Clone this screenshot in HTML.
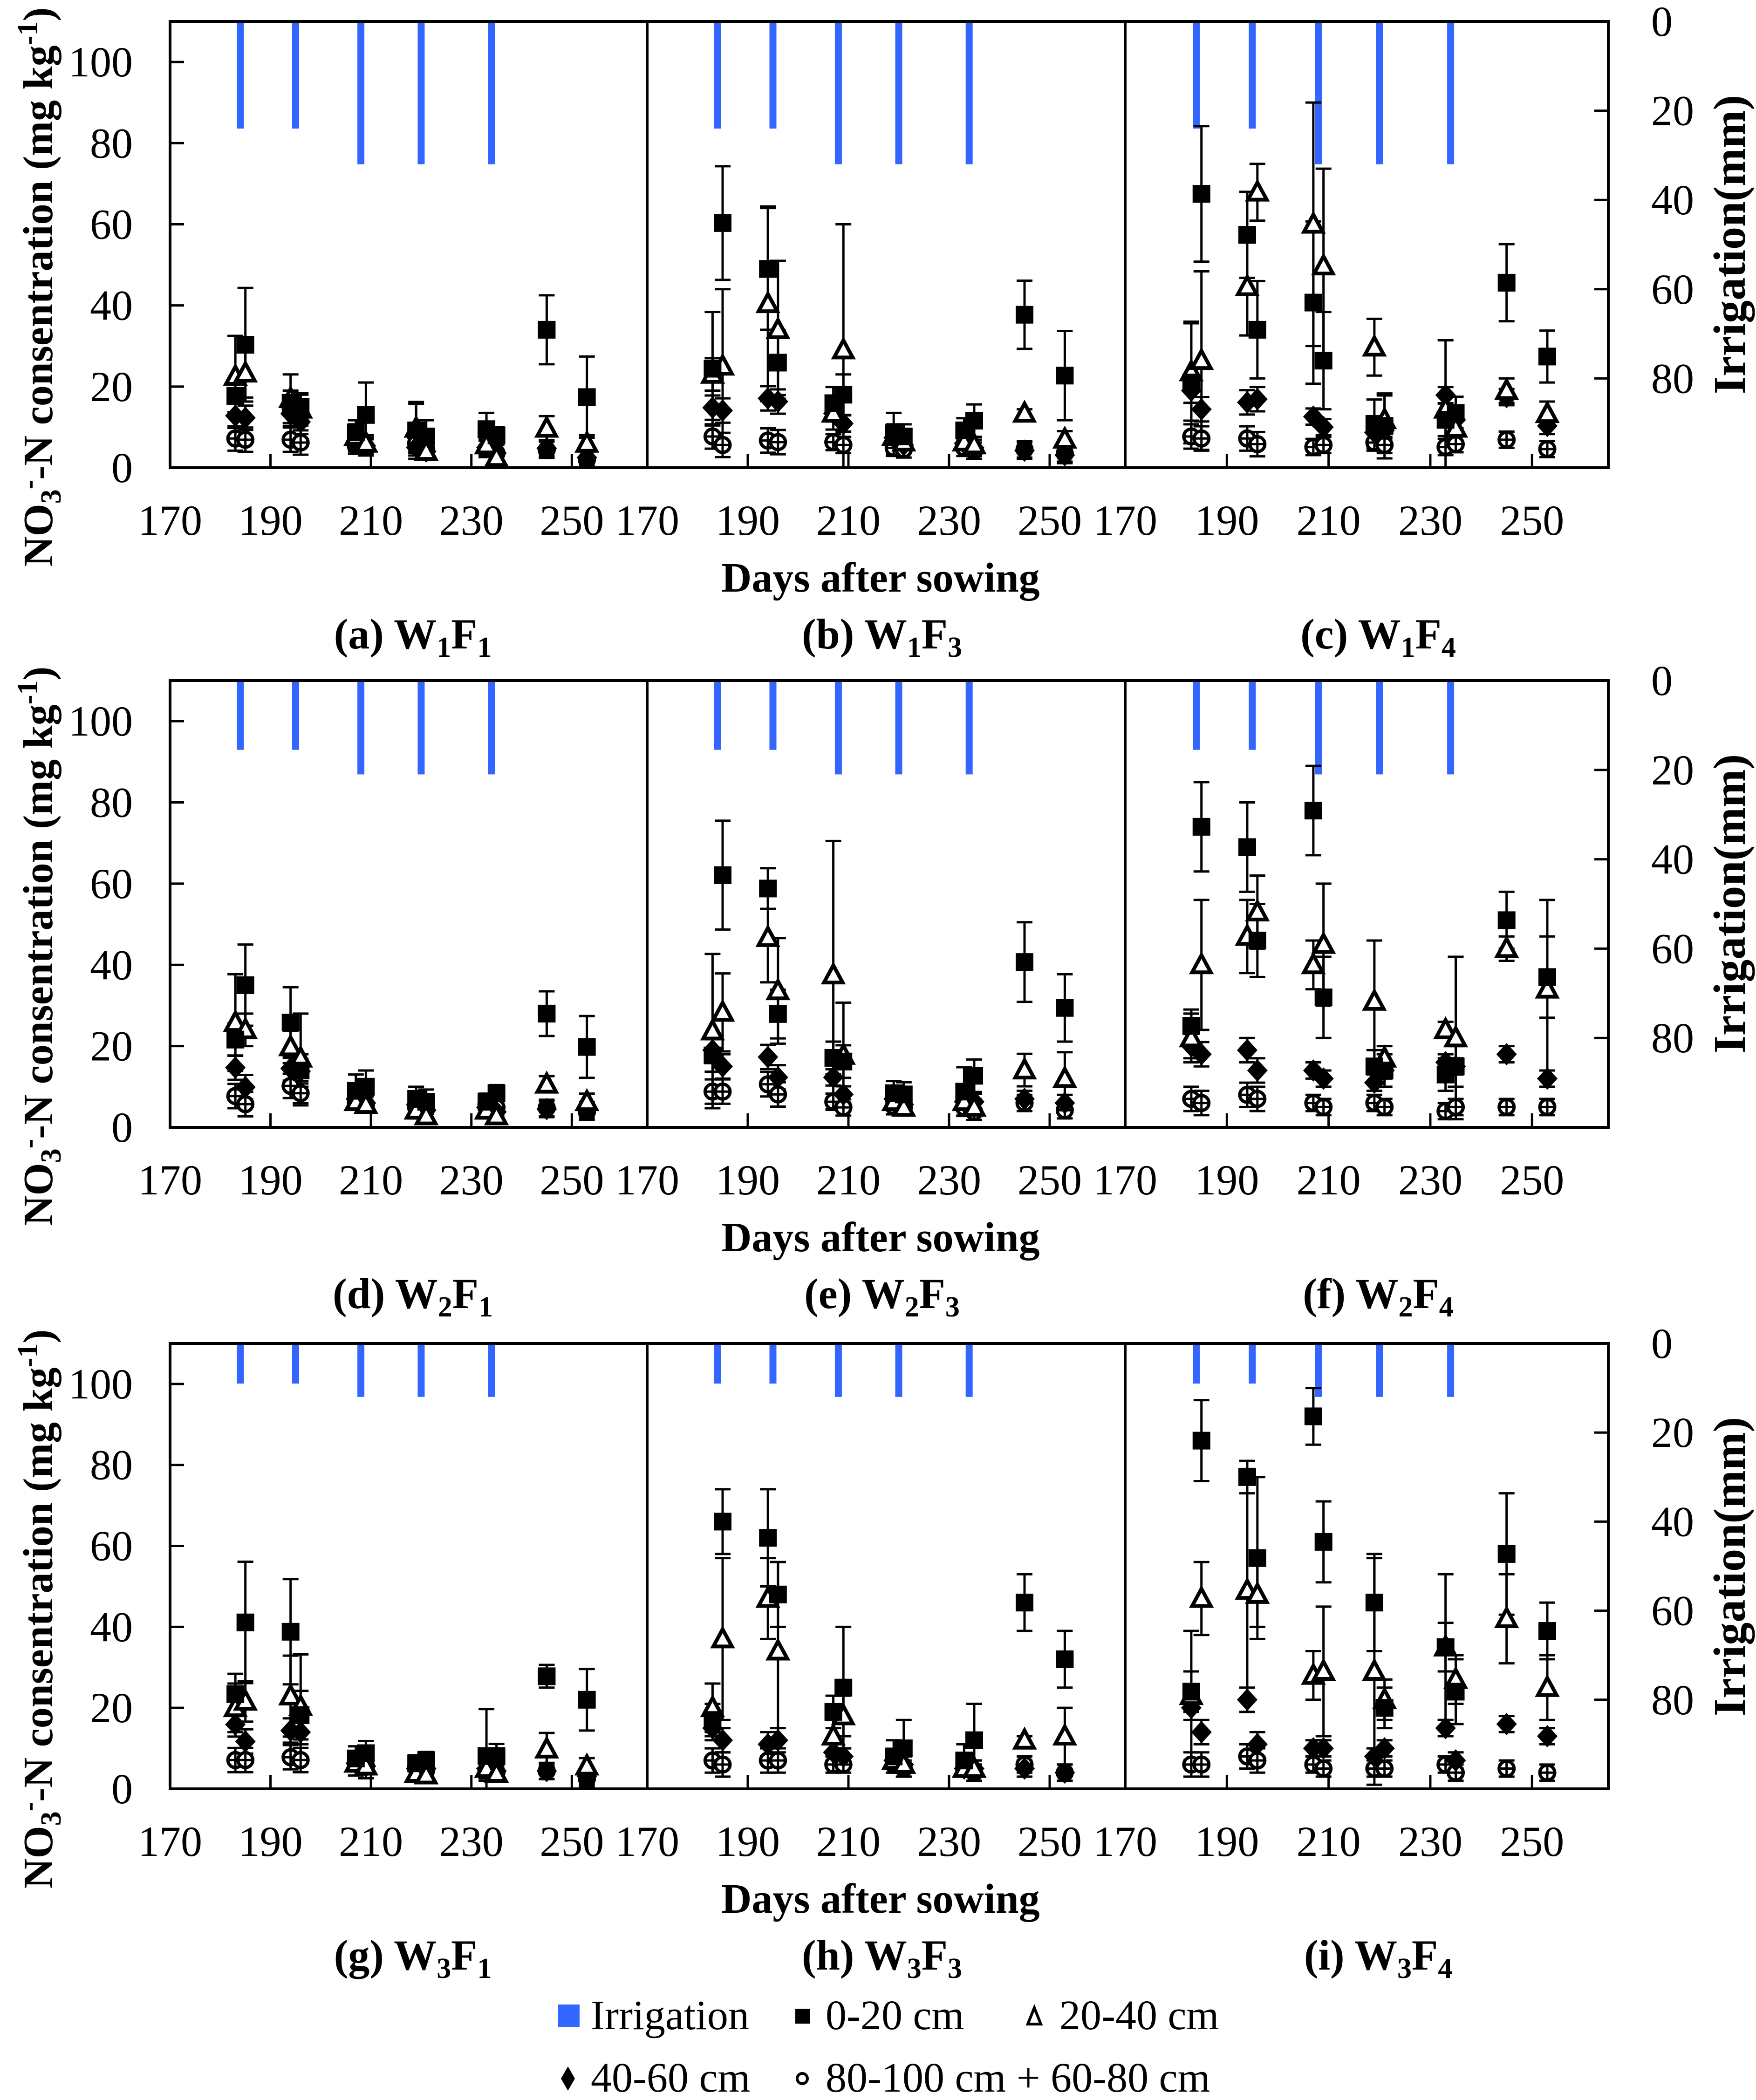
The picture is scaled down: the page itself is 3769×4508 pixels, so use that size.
<!DOCTYPE html>
<html><head><meta charset="utf-8">
<style>
html,body{margin:0;padding:0;background:#fff;}
svg, svg text{font-family:"Liberation Serif","DejaVu Serif",serif;}
svg{display:block;}
</style></head>
<body>
<svg id="chart" width="3769" height="4508" viewBox="0 0 3769 4508" xmlns="http://www.w3.org/2000/svg" font-family="Liberation Serif, DejaVu Serif, serif">
<rect x="0" y="0" width="3769" height="4508" fill="#fff"/>
<g id="layer"></g>
<g>
  <rect x="1198" y="4303" width="46" height="48" fill="#3366ff"/>
  <text x="1268" y="4356" font-size="90">Irrigation</text>
  <rect x="1707" y="4312" width="32" height="32" fill="#000"/>
  <text x="1772" y="4356" font-size="90">0-20 cm</text>
  <path d="M2220,4310 L2234,4345 L2206,4345 Z" fill="none" stroke="#000" stroke-width="6"/>
  <text x="2274" y="4356" font-size="90">20-40 cm</text>
  <path d="M1219,4436 L1234,4462 L1219,4488 L1204,4462 Z" fill="#000"/>
  <text x="1268" y="4490" font-size="90">40-60 cm</text>
  <circle cx="1722" cy="4462" r="11" fill="none" stroke="#000" stroke-width="6"/>
  <text x="1772" y="4490" font-size="90">80-100 cm + 60-80 cm</text>
</g>
</svg>
<script>
const days = [183,185,194,196,207,209,219,221,233,235,245,253];
const xTicks = [170,190,210,230,250];
const yTicks = [0,20,40,60,80,100];
const irrTicks = [0,20,40,60,80];
const irrDays = [184,195,208,220,234];
const irrRow1 = [24,24,32,32,32];
const irrRow2 = [15.5,15.5,21,21,21];
const irrRow3 = [9,9,12,12,12];
const deepErr = [3,3,3,3,2,2,2,2,2,2,2,2];

const a_sq  = [17.7,30.3,16,15,8.7,13,9.2,7.7,9.5,8,34,17.4];
const a_sqE = [4,14,3,3,3,8,7,4,4,2,8.5,10];
const a_tri = [22.5,23.3,17,14.4,7.7,6,9.7,4,5.6,2.5,9.7,6];
const a_triE= [10,6,6,4,3,2,6,2,2,1,3,2];
const a_dia = [12.8,12.3,13.3,11.3,6,5.4,5,4,5,3.6,4.8,2.5];
const a_cir = [7.2,6.9,6.9,6.2,5.4,5,6,4.6,4.6,3.6,4.4,2];

const b_sq  = [24.4,60.3,49,25.9,15.9,18,8.5,7.7,9.2,11.6,37.7,22.7];
const b_sqE = [14,14,15,8,4,5,5,3,3,4,8.4,11];
const b_tri = [23,25,40.4,34,13.4,29,7.7,6.3,6.3,5.6,13.4,7];
const b_triE= [4,19,24,17,4,31,3,2,2,2,1,2];
const b_dia = [14.8,14.1,17.1,16.3,13.4,10.9,7.4,5.6,6,4.9,4.2,3.1];
const b_cir = [7.7,5.6,6.7,6.3,6.3,5.6,4.9,4.5,4.9,4.2,4.5,3.5];

const c_sq  = [21,67.5,57.4,34,40.7,26.4,10.8,10.3,11.8,13.5,45.6,27.4];
const c_sqE = [15,16.7,10.6,12,20,12,6,8,4,4,9.5,6.4];
const c_tri = [23.6,26.4,44.6,67.9,60,49.7,29.7,11.8,14.4,9.7,19,13.3];
const c_triE= [12,22,12,7,30,24,7,6,17,4,3,3];
const c_dia = [19,14.4,16.1,16.9,12.6,10,8.7,9.2,17.9,11.8,17.4,10.3];
const c_cir = [7.7,7.2,7.2,5.8,5.1,5.6,6.2,5.6,5.1,5.8,6.9,4.6];

const d_sq  = [21.6,35,25.8,14,9,10,7,6.3,6.3,8.4,28,19.8];
const d_sqE = [4,10,8.7,4,4,4,3,3,2,2,5.5,7.6];
const d_tri = [25.8,24,19.8,17,6.3,5.6,4.2,2.8,4.2,2.8,10.6,6.3];
const d_triE= [11.9,4,4,11,2,2,2,1,2,1,2,2];
const d_dia = [14.7,9.9,14.5,13.8,7,6,5.6,4.2,4.9,3.8,4.5,4.2];
const d_cir = [7.7,5.7,10.2,8.4,6.3,5.6,4.9,4.5,5.6,4.9,4.8,3.8];

const e_sq  = [17.7,62.1,58.8,27.9,17.1,16.2,8.4,8.1,8.8,12.7,40.7,29.4];
const e_sqE = [4,13.4,5,6,4,4,3,3,6,4,9.8,8.3];
const e_tri = [23.7,28.3,46.7,33.6,37.5,17.7,6.3,4.9,6.3,4.9,14.1,12];
const e_triE= [19,9.6,11,13,33,13,2,2,2,2,4,6.5];
const e_dia = [19,15,17.3,12.3,12.3,8.1,7,5.6,6.3,6.3,7,6];
const e_cir = [8.8,8.8,10.6,8.1,6.3,4.9,5.2,4.9,4.9,3.8,6,4.2];

const f_sq  = [25,74,69,46,78,32,15,14,13,15,51,37];
const f_sqE = [4,11,11,9,11,10,4,4,4,5,7,10];
const f_tri = [22,40,47,53,40,45,31,17,24,22,44,34];
const f_triE= [6,16,9,9,6,15,15,3,2,20,3,22];
const f_dia = [20,18,19,14,14,12,11,14,16,15,18,12];
const f_cir = [7,6,8,7,6,5,6,5,4,5,5,5];

const g_sq  = [23.4,41.1,38.8,18.2,7.5,8.8,6.3,7.1,8.1,8.1,27.8,22];
const g_sqE = [5,15,13,6,3,3,2,2,11.6,3,2.8,7.6];
const g_tri = [20,21.6,22.9,20.3,6.3,5.6,3.8,3.4,5,3.8,9.8,5.6];
const g_triE= [6,5,10,12.9,3,3,2,2,3,2,4,2];
const g_dia = [15.9,11.7,14.4,14,6.3,5.6,5,5,5,4.4,4.4,3.1];
const g_cir = [7.1,7.1,7.8,7.1,6.3,5.6,5.4,4.6,4.6,4.1,4.4,2.5];

const h_sq  = [17,66,62,48,19,25,8,10,7,12,46,32];
const h_sqE = [4,8,12,8,4,15,4,7,4,9,7,7];
const h_tri = [20,37,47,34,13,18,7,6,5,5,12,13];
const h_triE= [6,20,10,22,4,5,2,2,2,2,1,7];
const h_dia = [15,12,11,12,9,8,7,6,5,5,5,4];
const h_cir = [7,6,7,7,6,6,6,5,5,4,6,4];

const i_sq  = [24,86,77,57,92,61,46,20,35,24,58,39];
const i_sqE = [5,10,4,20,7,10,12,5,18,8,15,7];
const i_tri = [23,47,49,48,28,29,29,22,35,27,42,25];
const i_triE= [16,9,30,8,6,16,28,5,6,6,11,8];
const i_dia = [20,14,22,11,10,10,8,10,15,7,16,13];
const i_cir = [6,6,8,7,6,5,5,5,6,4,5,4];

const panelNames = ["a","b","c","d","e","f","g","h","i"];
const panelW = ["1","1","1","2","2","2","3","3","3"];
const panelF = ["1","3","4","1","3","4","1","3","4"];

const NS = "http://www.w3.org/2000/svg";
const layer = document.getElementById("layer");
const colL = [365,1389,2415], colR = [1389,2415,3452];
const rowT = [46,1461,2884], rowB = [1004,2420,3840];
const labelCx = [886,1893,2958];
const irrRows = [irrRow1, irrRow2, irrRow3];
const panelData = [
 [a_sq,a_sqE,a_tri,a_triE,a_dia,a_cir],[b_sq,b_sqE,b_tri,b_triE,b_dia,b_cir],[c_sq,c_sqE,c_tri,c_triE,c_dia,c_cir],
 [d_sq,d_sqE,d_tri,d_triE,d_dia,d_cir],[e_sq,e_sqE,e_tri,e_triE,e_dia,e_cir],[f_sq,f_sqE,f_tri,f_triE,f_dia,f_cir],
 [g_sq,g_sqE,g_tri,g_triE,g_dia,g_cir],[h_sq,h_sqE,h_tri,h_triE,h_dia,h_cir],[i_sq,i_sqE,i_tri,i_triE,i_dia,i_cir]];

function mk(tag, attrs, parent){
  const el = document.createElementNS(NS, tag);
  for (const k in attrs) el.setAttribute(k, attrs[k]);
  (parent||layer).appendChild(el);
  return el;
}
function txt(str, x, y, size, opts, parent){
  const el = mk("text", Object.assign({x:x, y:y, "font-size":size, "font-family":"Liberation Serif, DejaVu Serif, serif"}, opts||{}), parent);
  el.textContent = str;
  return el;
}

for (let p = 0; p < 9; p++){
  const r = Math.floor(p/3), c = p%3;
  const L = colL[c], R = colR[c], T = rowT[r], B = rowB[r];
  const xs = d => L + (d-170)/95*(R-L);
  const ys = v => B - v/110*(B-T);
  const ir = mm => T + mm/100*(B-T);
  const g = mk("g", {});
  
  

  irrDays.forEach((d,k) => {
    const b = mk("rect", {x: xs(d)-7.5, y: T, width: 15, height: ir(irrRows[r][k]) - T, fill: "#3366ff"}, g);
    
    
  });

  const fr = mk("rect", {x: L, y: T, width: R-L, height: B-T, fill: "none", stroke: "#000", "stroke-width": 6}, g);
  
  

  xTicks.forEach(t => {
    if (t > 170) mk("line", {x1: xs(t), x2: xs(t), y1: B, y2: B-30, stroke: "#000", "stroke-width": 5}, g);
    const lb = txt(String(t), xs(t), B+144, 92, {"text-anchor":"middle"}, g);
    
    
  });
  if (c === 0){
    yTicks.forEach(t => {
      mk("line", {x1: L, x2: L+30, y1: ys(t), y2: ys(t), stroke: "#000", "stroke-width": 5}, g);
      const lb = txt(String(t), L-80, ys(t)+31, 92, {"text-anchor":"end"}, g);
      
      
    });
    const yt = mk("text", {x: 0, y: 0, "font-size": 90, "font-weight": "bold", "text-anchor": "middle", "font-family":"Liberation Serif, DejaVu Serif, serif",
      transform: "translate(" + 112 + "," + (T+570) + ") rotate(-90)"}, g);
    
    
    yt.innerHTML = 'NO<tspan font-size="62" dy="18">3</tspan><tspan font-size="62" dy="-48">-</tspan><tspan dy="30">-N consentration (mg kg</tspan><tspan font-size="62" dy="-32">-1</tspan><tspan dy="32">)</tspan>';
  }
  if (c === 2){
    irrTicks.forEach(t => {
      mk("line", {x1: R, x2: R-30, y1: ir(t), y2: ir(t), stroke: "#000", "stroke-width": 5}, g);
      const lb = txt(String(t), 3544, ir(t)+31, 92, {}, g);
      
      
    });
    const rt = txt("Irrigation(mm)", 0, 0, 98, {"font-weight":"bold","text-anchor":"middle",
      transform: "translate(3745," + (T+479) + ") rotate(-90)"}, g);
    
    
  }
  if (c === 1){
    const dt = txt("Days after sowing", 1890, B+266, 90, {"font-weight":"bold","text-anchor":"middle"}, g);
    
    
  }
  const pl = mk("text", {x: labelCx[c], y: B+388, "font-size": 92, "font-weight": "bold", "text-anchor": "middle", "font-family":"Liberation Serif, DejaVu Serif, serif"}, g);
  
  
  pl.innerHTML = '(' + panelNames[p] + ') W<tspan font-size="62" dy="18">' + panelW[p] + '</tspan><tspan dy="-18">F</tspan><tspan font-size="62" dy="18">' + panelF[p] + '</tspan>';

  const [sq, sqE, tri, triE, dia, cir] = panelData[p];
  const errSets = [[cir,deepErr],[dia,deepErr],[tri,triE],[sq,sqE]];
  errSets.forEach(([vals, errs]) => {
    days.forEach((d,k) => {
      const x = xs(d), y1 = ys(vals[k]+errs[k]), y2 = ys(Math.max(0, vals[k]-errs[k]));
      const eb = mk("path", {d: "M"+x+","+y1+"V"+y2+"M"+(x-17)+","+y1+"h34M"+(x-17)+","+y2+"h34", stroke:"#000", "stroke-width":5, fill:"none"}, g);
      
      
    });
  });
  days.forEach((d,k) => {
    const x = xs(d), y = ys(cir[k]);
    const ci = mk("circle", {cx: x, cy: y, r: 16, fill: "#fff", stroke: "#000", "stroke-width": 7}, g);
    
    
    const pl2 = mk("path", {d: "M"+(x-19)+","+y+"h38M"+x+","+(y-19)+"v38", stroke:"#000", "stroke-width":5}, g);
    
    
  });
  days.forEach((d,k) => {
    const x = xs(d), y = ys(dia[k]);
    const dm = mk("path", {d: "M"+x+","+(y-24)+"L"+(x+22)+","+y+"L"+x+","+(y+24)+"L"+(x-22)+","+y+"Z", fill:"#000"}, g);
    
    
  });
  days.forEach((d,k) => {
    const x = xs(d), y = ys(tri[k]);
    const tr = mk("path", {d: "M"+x+","+(y-21)+"L"+(x+20)+","+(y+16)+"L"+(x-20)+","+(y+16)+"Z", fill:"#fff", stroke:"#000", "stroke-width":8}, g);
    
    
  });
  days.forEach((d,k) => {
    const x = xs(d), y = ys(sq[k]);
    const s = mk("rect", {x: x-19, y: y-19, width: 38, height: 38, fill:"#000"}, g);
    
    
  });
}
</script>
</body></html>
